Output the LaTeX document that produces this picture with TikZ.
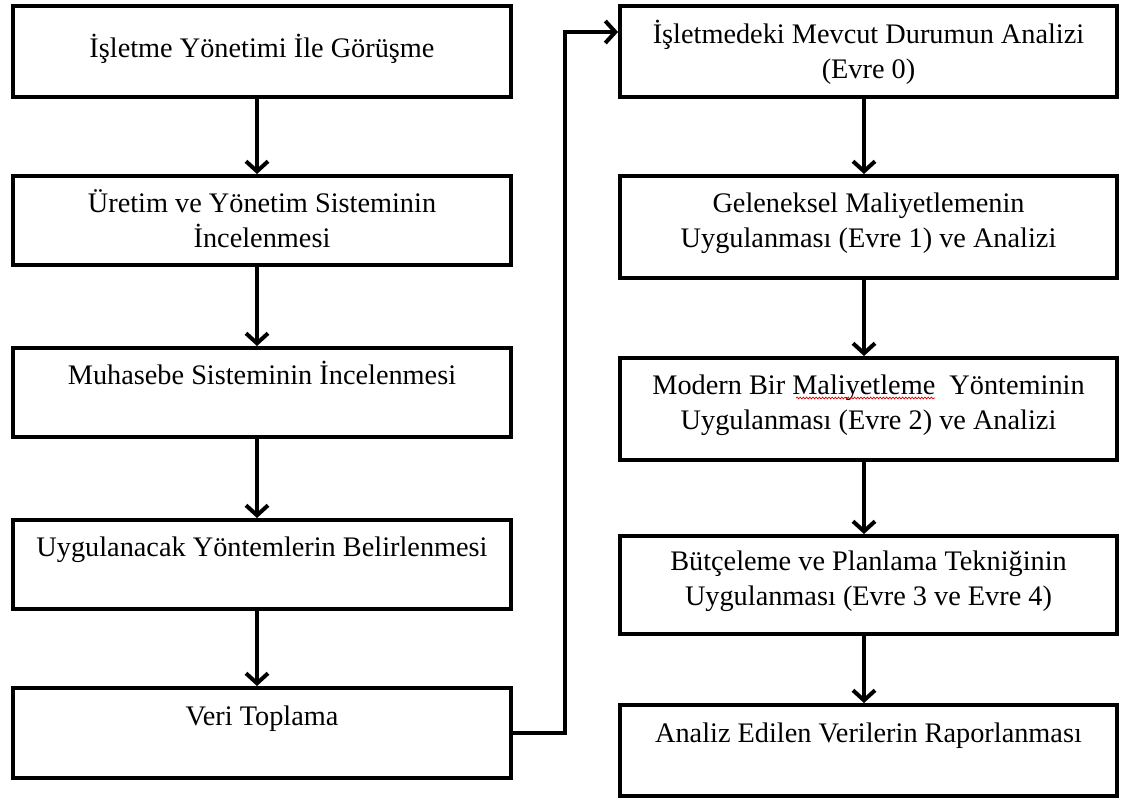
\documentclass[tikz,border=0pt]{standalone}
\usepackage{fontspec}
\setmainfont{Liberation Serif}
\usetikzlibrary{arrows.meta,decorations.pathmorphing}

\begin{document}
\begin{tikzpicture}[x=1pt,y=-1pt,
  box/.style={draw=black, line width=4pt, inner sep=0pt, line join=miter},
  lbox/.style={box, minimum width=498pt},
  rbox/.style={box, minimum width=497pt},
  lbl/.style={font=\fontsize{28.3}{35}\selectfont, align=center, anchor=base, inner sep=0pt},
  flow/.style={line width=4pt, -{Straight Barb[length=10pt,width=22pt]}},
  spell/.style={draw=red!85!black, line width=0.7pt, decorate,
    decoration={snake, amplitude=0.9pt, segment length=3.2pt}}
]
\fill[white] (0,0) rectangle (1125,801);
\useasboundingbox (0,0) rectangle (1125,801);

% left column
\node[lbox, minimum height=91pt] (l1) at (262,51.5) {};
\node[lbox, minimum height=89pt] (l2) at (262,220.5) {};
\node[lbox, minimum height=89pt] (l3) at (262,392.5) {};
\node[lbox, minimum height=89pt] (l4) at (262,564.5) {};
\node[lbox, minimum height=90pt] (l5) at (262,733) {};

% labels sit on the baseline of their last line
\node[lbl] (tl1) at (262,57) {İşletme Yönetimi İle Görüşme};
\node[lbl] (tl2) at (262,247) {Üretim ve Yönetim Sisteminin\\İncelenmesi};
\node[lbl] (tl3) at (262,384) {Muhasebe Sisteminin İncelenmesi};
\node[lbl] (tl4) at (262,556) {Uygulanacak Yöntemlerin Belirlenmesi};
\node[lbl] (tl5) at (262,725) {Veri Toplama};

% right column
\node[rbox, minimum height=91pt] (r1) at (868.5,51.5) {};
\node[rbox, minimum height=102pt] (r2) at (868.5,227) {};
\node[rbox, minimum height=102pt] (r3) at (868.5,409) {};
\node[rbox, minimum height=98pt] (r4) at (868.5,585) {};
\node[rbox, minimum height=91pt] (r5) at (868.5,750.5) {};

\node[lbl] (tr1) at (868.5,78) {İşletmedeki Mevcut Durumun Analizi\\(Evre 0)};
\node[lbl] (tr2) at (868.5,247) {Geleneksel Maliyetlemenin\\Uygulanması (Evre 1) ve Analizi};
\node[lbl] (tr3) at (868.5,429) {Modern Bir Maliyetleme\ \ Yönteminin\\Uygulanması (Evre 2) ve Analizi};
\node[lbl] (tr4) at (868.5,605) {Bütçeleme ve Planlama Tekniğinin\\Uygulanması (Evre 3 ve Evre 4)};
\node[lbl] (tr5) at (868.5,742) {Analiz Edilen Verilerin Raporlanması};

% spell-check squiggle under "Maliyetleme"
\coordinate (sq1) at (796,398);
\coordinate (sq2) at (935,398);
\draw[spell] (sq1) -- (sq2);

% arrow columns
\coordinate (lx) at (257,0);
\coordinate (rx) at (864,0);
\draw[flow] (l1.south -| lx) -- (l2.north -| lx);
\draw[flow] (l2.south -| lx) -- (l3.north -| lx);
\draw[flow] (l3.south -| lx) -- (l4.north -| lx);
\draw[flow] (l4.south -| lx) -- (l5.north -| lx);

\draw[flow] (r1.south -| rx) -- (r2.north -| rx);
\draw[flow] (r2.south -| rx) -- (r3.north -| rx);
\draw[flow] (r3.south -| rx) -- (r4.north -| rx);
\draw[flow] (r4.south -| rx) -- (r5.north -| rx);

% link from the last step on the left to the first step on the right
\coordinate (jx) at (565,0);
\coordinate (jy) at (0,32);
\draw[line width=4pt, line join=miter, -{Straight Barb[length=10pt,width=22pt]}]
  (l5.east) -- (l5.east -| jx) |- (r1.west |- jy);
\end{tikzpicture}
\end{document}
